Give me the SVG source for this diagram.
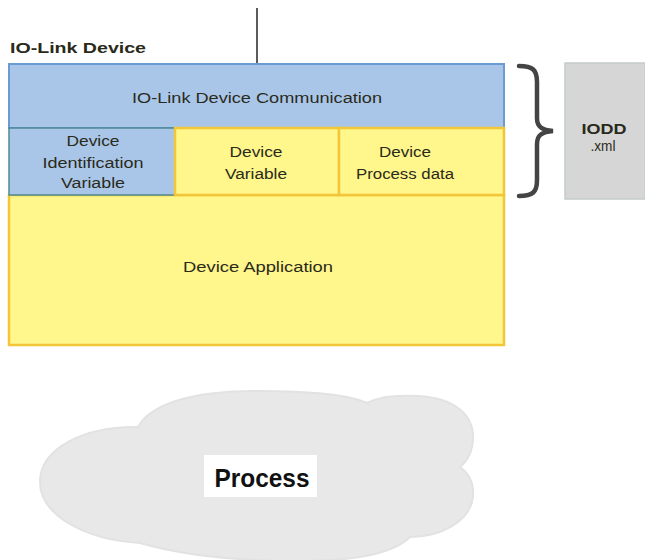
<svg xmlns="http://www.w3.org/2000/svg" width="645" height="560" viewBox="0 0 645 560">
<style>
.t{font-family:"Liberation Sans",Arial,sans-serif;font-size:14px;fill:#2a2a1a;text-anchor:middle}
.b{font-weight:bold}
.blue{fill:#a9c6e8;stroke:#6b9bd0;stroke-width:2}
.yel{fill:#fff68c;stroke:#f3c63a;stroke-width:2.5}
</style>
<rect width="645" height="560" fill="#ffffff"/>
<g id="connectors">
<line x1="257" y1="8" x2="257" y2="64" stroke="#333" stroke-width="1.6"/>
<path d="M519,66 C533,66 537,70 537,82 L537,118 C537,127 542,130 553,131 C542,132 537,135 537,144 L537,180 C537,192 533,196 519,196" fill="none" stroke="#444" stroke-width="4.5" stroke-linecap="round"/>
</g>
<g id="title">
<text class="t b" x="10" y="53" style="text-anchor:start;font-size:14px" textLength="136" lengthAdjust="spacingAndGlyphs">IO-Link Device</text>
</g>
<g id="comm">
<rect class="blue" x="9" y="64" width="495" height="64"/>
<text class="t" x="257" y="103" textLength="250" lengthAdjust="spacingAndGlyphs">IO-Link Device Communication</text>
</g>
<g id="app">
<rect class="yel" x="9" y="195" width="495" height="150"/>
<text class="t" x="258" y="272" font-size="15" textLength="150" lengthAdjust="spacingAndGlyphs">Device Application</text>
</g>
<g id="ident">
<rect x="9" y="128" width="166" height="67" fill="#a9c6e8" stroke="#4f8a95" stroke-width="1.5"/>
<text class="t" x="93" y="146" textLength="53" lengthAdjust="spacingAndGlyphs">Device</text>
<text class="t" x="93" y="168" textLength="101" lengthAdjust="spacingAndGlyphs">Identification</text>
<text class="t" x="93" y="188" textLength="64" lengthAdjust="spacingAndGlyphs">Variable</text>
</g>
<g id="variable">
<rect class="yel" x="175" y="128" width="164" height="67"/>
<text class="t" x="256" y="157" textLength="53" lengthAdjust="spacingAndGlyphs">Device</text>
<text class="t" x="256" y="179" textLength="62" lengthAdjust="spacingAndGlyphs">Variable</text>
</g>
<g id="pdata">
<rect class="yel" x="339" y="128" width="165" height="67"/>
<text class="t" x="405" y="157" textLength="52" lengthAdjust="spacingAndGlyphs">Device</text>
<text class="t" x="405" y="179" textLength="98" lengthAdjust="spacingAndGlyphs">Process data</text>
</g>
<g id="iodd">
<rect x="565" y="63" width="80" height="136" fill="#d6d6d6" stroke="#c4ccc8" stroke-width="1.5"/>
<text class="t b" x="604" y="134" font-size="15" fill="#222" textLength="45" lengthAdjust="spacingAndGlyphs">IODD</text>
<text class="t" x="603" y="151" font-size="12" textLength="25" lengthAdjust="spacingAndGlyphs">.xml</text>
</g>
<g id="process">
<path d="M140,543 C85,540 40,515 40,482 C40,448 85,426 138,427 C150,405 190,391 255,391 C310,391 350,395 367,403 C380,396 398,395 418,396 C455,398 473,415 473,437 C473,452 466,462 460,467 C470,474 474,484 473,497 C470,522 440,537 410,537 C395,552 360,561 300,561 C240,561 185,556 140,543 Z" fill="#e8e8e8" stroke="#e2e2e2" stroke-width="2"/>
<rect x="204" y="455" width="113" height="42" fill="#ffffff"/>
<text x="262" y="487" font-family="'Liberation Sans',Arial,sans-serif" font-weight="bold" font-size="25" text-anchor="middle" fill="#111" textLength="95" lengthAdjust="spacingAndGlyphs">Process</text>
</g>
</svg>
